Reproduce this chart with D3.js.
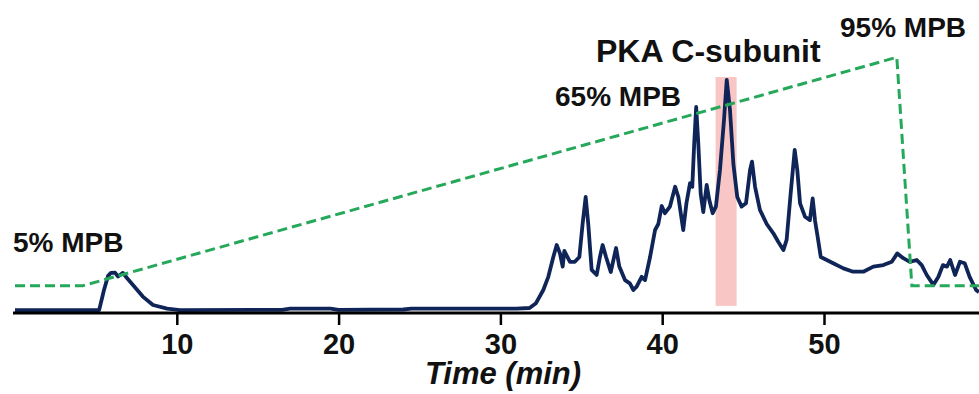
<!DOCTYPE html>
<html>
<head>
<meta charset="utf-8">
<script src="https://cdn.jsdelivr.net/npm/d3@7"></script>
<style>
  html, body { margin: 0; padding: 0; background: #fff; }
  svg { display: block; }
  text { font-family: "Liberation Sans", Arial, sans-serif; font-weight: bold; fill: #111; }
</style>
</head>
<body>
<svg id="chart" width="979" height="394"></svg>
<script>
// Retention time (min) and detector signal of the chromatogram trace
const traceTime = [
  0, 5.2, 5.5, 5.75, 5.93, 6.18, 6.37, 6.67, 6.92, 7.29, 7.9, 8.53, 9.4, 10.2,
  16.5, 17, 19.5, 20, 24, 24.5, 31, 31.8, 32.2, 32.65, 32.96, 33.27, 33.48, 33.68,
  33.85, 33.95, 34.3, 34.6, 34.88, 35.08, 35.27, 35.43, 35.64, 35.95, 36.15, 36.32,
  36.53, 36.82, 37.15, 37.35, 37.7, 38.0, 38.22, 38.42, 38.73, 38.94, 39.25, 39.56,
  39.76, 39.97, 40.17, 40.48, 40.8, 41.0, 41.3, 41.5, 41.72, 41.86, 41.98, 42.1,
  42.23, 42.38, 42.54, 42.75, 42.91, 43.12, 43.32, 43.57, 43.82, 43.99, 44.19, 44.4,
  44.64, 44.91, 45.18, 45.43, 45.55, 45.74, 46.04, 46.46, 46.87, 47.18, 47.49, 47.69,
  47.94, 48.19, 48.35, 48.52, 48.83, 49.13, 49.3, 49.45, 49.6, 49.8, 50.17, 50.57,
  51.2, 51.8, 52.43, 53.05, 53.67, 54.19, 54.53, 54.9, 55.31, 55.73, 56.04, 56.35,
  56.76, 57.07, 57.35, 57.6, 57.8, 58.1, 58.4, 58.7, 59.0, 59.4, 59.58
];
const traceSignal = [
  0.3, 0.3, 7, 11.7, 12.7, 12.8, 11.5, 12.7, 11, 8.7, 4.8, 2, 0.8, 0.3,
  0.4, 0.8, 0.8, 0.4, 0.5, 0.8, 0.8, 1.0, 2.6, 7, 11.4, 18, 22, 19.2,
  14.8, 20, 16.4, 16.4, 18, 29, 38, 29, 13.7, 12, 18, 22,
  18, 13, 21, 14.8, 10.3, 9.2, 7, 8.1, 11.4, 10.3, 18, 27,
  29, 35, 32.6, 34.8, 41.4, 38, 27, 36, 42.6, 41.4, 56, 68,
  56, 39, 33, 42, 37, 32.6, 34.8, 47, 63.7, 77, 67, 49,
  38, 34.8, 35.9, 47, 49.8, 41.4, 33.7, 29, 25.9, 23, 20.3, 23.7,
  39.2, 53.7, 47, 35.9, 31.4, 30.3, 37.5, 30, 25, 18, 17, 15.9,
  14.2, 13.1, 13.1, 14.8, 15.3, 16.4, 19.2, 17.6, 16.4, 17, 15.3, 12,
  8.7, 11.4, 15.3, 14.8, 17, 12, 16.4, 15.9, 11.4, 7, 6.3
];

// Mobile phase B gradient program (time in min, %B)
const gradientTime = [0, 4.2, 54.5, 55.43, 59.58];
const gradientB = [5, 5, 95, 5, 5];

// Collected fraction window (min) and its signal extent
const fractionStart = 43.3;
const fractionEnd = 44.6;
const fractionSignal = [1.7, 78];

// Axis ticks and annotations
const timeTicks = [10, 20, 30, 40, 50];
const axisTitle = "Time (min)";
const annotations = [
  { text: "5% MPB", x: 13, y: 252, size: 28 },
  { text: "65% MPB", x: 555, y: 106, size: 28 },
  { text: "PKA C-subunit", x: 596, y: 62, size: 32 },
  { text: "95% MPB", x: 840, y: 37, size: 28 }
];

const svg = d3.select("#chart");

const x = d3.scaleLinear().domain([0, 59.58]).range([15, 979]);
const y = d3.scaleLinear().domain([0, 100]).range([311, 11]);
const yB = d3.scaleLinear().domain([5, 95]).range([285.7, 57.3]);

// fraction highlight
svg.append("rect")
  .attr("x", x(fractionStart))
  .attr("width", x(fractionEnd) - x(fractionStart))
  .attr("y", y(fractionSignal[1]))
  .attr("height", y(fractionSignal[0]) - y(fractionSignal[1]))
  .attr("fill", "#f9c6c6");

// chromatogram
const trace = traceTime.map((t, i) => [t, traceSignal[i]]);
svg.append("path")
  .datum(trace)
  .attr("fill", "none")
  .attr("stroke", "#0f2557")
  .attr("stroke-width", 3.8)
  .attr("stroke-linejoin", "round")
  .attr("d", d3.line().x(d => x(d[0])).y(d => y(d[1])));

// gradient program
const grad = gradientTime.map((t, i) => [t, gradientB[i]]);
svg.append("path")
  .datum(grad)
  .attr("fill", "none")
  .attr("stroke", "#25a85a")
  .attr("stroke-width", 3)
  .attr("stroke-dasharray", "10,5")
  .attr("d", d3.line().x(d => x(d[0])).y(d => yB(d[1])));

// x axis
const axis = svg.append("g")
  .attr("transform", "translate(0,313)")
  .call(d3.axisBottom(x).tickValues(timeTicks).tickSizeOuter(0).tickSize(12).tickPadding(8));
axis.select(".domain").attr("stroke", "#000").attr("stroke-width", 3)
  .attr("d", `M13,0H979`);
axis.selectAll(".tick line").attr("stroke", "#000").attr("stroke-width", 2.5);
axis.selectAll(".tick text")
  .attr("font-family", "Liberation Sans, Arial, sans-serif")
  .attr("font-weight", "bold")
  .attr("font-size", 29)
  .attr("fill", "#111");

svg.append("text")
  .attr("x", 503)
  .attr("y", 384)
  .attr("text-anchor", "middle")
  .attr("font-size", 31)
  .attr("font-style", "italic")
  .text(axisTitle);

svg.selectAll("text.note")
  .data(annotations)
  .join("text")
  .attr("class", "note")
  .attr("x", d => d.x)
  .attr("y", d => d.y)
  .attr("font-size", d => d.size)
  .text(d => d.text);
</script>
</body>
</html>
